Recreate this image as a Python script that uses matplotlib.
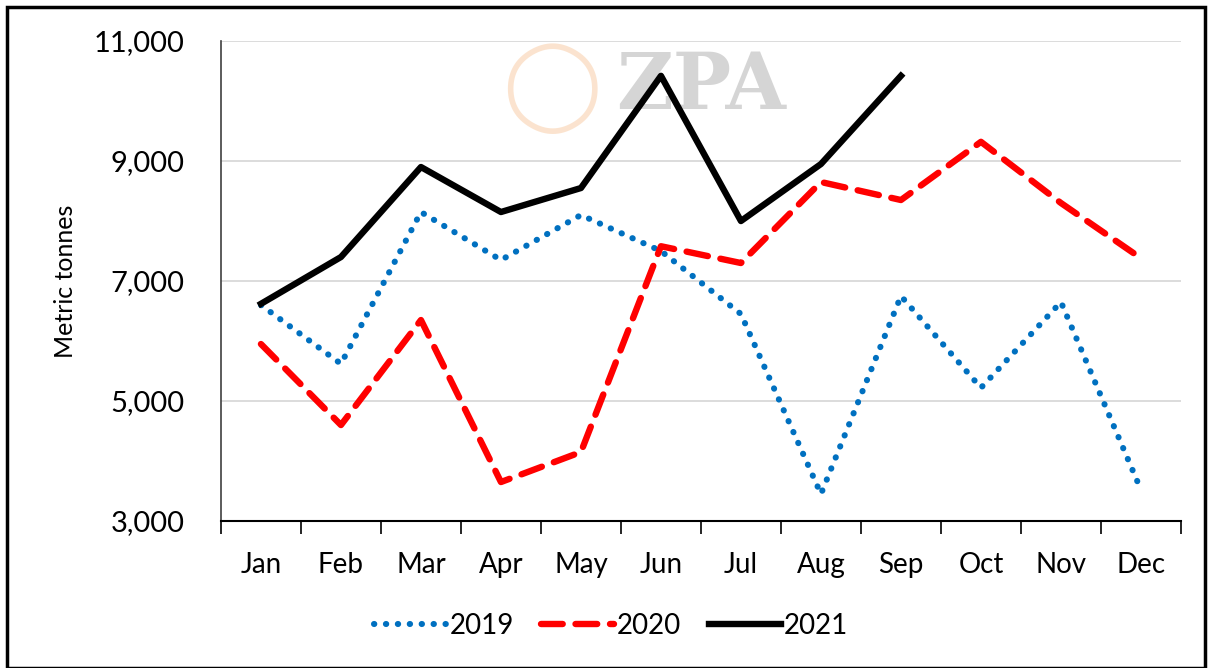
import matplotlib
matplotlib.use("Agg")
import matplotlib.pyplot as plt
import numpy as np
from matplotlib.patches import Rectangle

plt.rcParams['font.family'] = ['Lato', 'DejaVu Sans']

# dados
meses = ["Jan", "Feb", "Mar", "Apr", "May", "Jun", "Jul", "Aug", "Sep", "Oct", "Nov", "Dec"]
v2019 = [6600, 5620, 8150, 7350, 8100, 7500, 6450, 3450, 6750, 5220, 6650, 3520]
v2020 = [5950, 4600, 6350, 3650, 4150, 7580, 7300, 8650, 8350, 9320, 8300, 7380]
v2021 = [6620, 7400, 8900, 8150, 8550, 10420, 8000, 8950, 10420]
yticks = [3000, 5000, 7000, 9000, 11000]

fig = plt.figure(figsize=(12.1, 6.68), dpi=100)
ax = fig.add_axes([0.1826, 0.22, 0.7934, 0.7186])

x = np.arange(len(meses))

# marca d'agua
ax.text(0.5, 0.905, "ZPA", transform=ax.transAxes, ha="center", va="center",
        fontsize=56, fontweight="bold", family="DejaVu Serif", color="#BFBFBF",
        alpha=0.65, zorder=0)
ax.text(0.345, 0.9, "\u25EF", transform=ax.transAxes, ha="center", va="center",
        fontsize=64, color="#F8C9A0", alpha=0.5, zorder=0)

ax.plot(x, v2019, color="#0070C0", lw=4.4, linestyle=(0, (0.05, 1.9)),
        dash_capstyle="round", label="2019", zorder=3)
ax.plot(x, v2020, color="#FF0000", lw=4.6, linestyle=(0, (3.4, 2)),
        dash_capstyle="round", label="2020", zorder=3)
ax.plot(x[:len(v2021)], v2021, color="black", lw=4.6, label="2021", zorder=4)

ax.set_xlim(-0.5, 11.5)
ax.set_ylim(3000, 11000)
ax.set_yticks(yticks)
ax.set_yticklabels([f"{v:,}" for v in yticks], fontsize=21)
ax.set_xticks(x)
ax.set_xticklabels(meses, fontsize=20)
ax.tick_params(axis="x", length=0, pad=22)
ax.tick_params(axis="y", length=0, pad=26)
# ticks entre categorias
ax.set_xticks(np.arange(-0.5, 12, 1), minor=True)
ax.tick_params(axis="x", which="minor", length=9, width=1.2, direction="out")

ax.grid(axis="y", color="#D9D9D9", lw=1.3)
ax.set_axisbelow(True)
for s in ["top", "right"]:
    ax.spines[s].set_visible(False)
ax.spines["left"].set_color("#404040")
ax.spines["left"].set_linewidth(1.2)
ax.spines["bottom"].set_linewidth(1.5)

ax.set_ylabel("Metric tonnes", fontsize=18, labelpad=12)

fig.legend(loc="center", bbox_to_anchor=(0.505, 0.063), ncol=3, frameon=False,
           fontsize=20, handlelength=2.6, handletextpad=0.1, columnspacing=1.0)

# moldura
fig.patches.append(Rectangle((0.006, 0.0), 0.99, 0.99, transform=fig.transFigure,
                             fill=False, edgecolor="black", lw=2.5))

fig.savefig("out.png", dpi=100)
